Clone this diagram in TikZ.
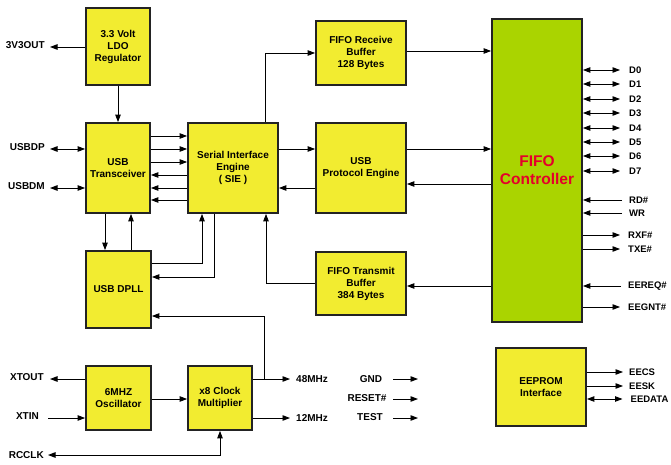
\documentclass[tikz,border=0pt]{standalone}
\usepackage{fontspec}
\setmainfont{Liberation Sans}
\usetikzlibrary{arrows.meta}
\definecolor{boxyellow}{RGB}{242,236,48}
\definecolor{ctrlgreen}{RGB}{170,212,0}
\definecolor{ctrlred}{RGB}{228,0,43}
\definecolor{edgegrey}{RGB}{35,35,35}
\tikzset{
  blk/.style={draw=edgegrey, line width=1.8pt, fill=boxyellow, align=center,
    font=\fontsize{10}{12}\selectfont\bfseries, inner sep=0pt},
  lbl/.style={font=\fontsize{10}{11}\selectfont\bfseries, inner sep=2pt},
  slbl/.style={font=\fontsize{9.5}{11}\selectfont\bfseries, inner sep=2pt},
  tip/.tip={Triangle[length=7.5pt,width=5.5pt]},
  arr/.style={line width=0.9pt, -tip},
  darr/.style={line width=0.9pt, tip-tip}
}
\begin{document}
\begin{tikzpicture}[x=1pt,y=-1pt]
\useasboundingbox (0,0) rectangle (671,465);
% blocks
\node[blk, minimum width=64pt, minimum height=77pt] (ldo) at (118,46.5) {3.3 Volt\\LDO\\Regulator};
\node[blk, minimum width=64pt, minimum height=90pt] (xcvr) at (118,168) {USB\\Transceiver};
\node[blk, minimum width=90pt, minimum height=90pt] (sie) at (233,168) {Serial Interface\\Engine\\( SIE )};
\node[blk, minimum width=90pt, minimum height=90pt] (pe) at (361,168) {USB\\Protocol Engine};
\node[blk, minimum width=90pt, minimum height=64pt] (rx) at (361,53) {FIFO Receive\\Buffer\\128 Bytes};
\node[blk, minimum width=90pt, minimum height=63pt] (tx) at (361,283.5) {FIFO Transmit\\Buffer\\384 Bytes};
\node[blk, fill=ctrlgreen, text=ctrlred, font=\fontsize{15.5}{18}\selectfont\bfseries, minimum width=90pt, minimum height=303pt] (ctrl) at (537,170.5) {FIFO\\Controller};
\node[blk, minimum width=65pt, minimum height=77pt] (dpll) at (118.5,289.5) {USB DPLL};
\node[blk, minimum width=65pt, minimum height=64pt] (osc) at (118.5,398) {6MHZ\\Oscillator};
\node[blk, minimum width=64pt, minimum height=64pt] (clk) at (220,398) {x8 Clock\\Multiplier};
\node[blk, minimum width=90pt, minimum height=78pt] (eep) at (541,387) {EEPROM\\Interface};

% left side labels
\node[lbl, anchor=east] (v3) at (47,45) {3V3OUT};
\node[lbl, anchor=east] (dp) at (47,147) {USBDP};
\node[lbl, anchor=east] (dm) at (47,186) {USBDM};
\node[lbl, anchor=east] (xo) at (46,377) {XTOUT};
\node[lbl, anchor=east] (xi) at (41,416) {XTIN};
\node[lbl, anchor=east] (rc) at (46,455) {RCCLK};

\draw[arr] (ldo.west |- 0,47) -- (50,47) coordinate (v3e);
\draw[darr] (50,149) coordinate (dpe) -- (xcvr.west |- 0,149);
\draw[darr] (50,188) coordinate (dme) -- (xcvr.west |- 0,188);
\draw[arr] (osc.west |- 0,379) -- (50,379) coordinate (xoe);
\draw[arr] (48,418) coordinate (xie) -- (osc.west |- 0,418);
\draw[darr] (clk.south) -- (clk.south |- 0,455) -- (48,455) coordinate (rce);

% LDO to transceiver
\draw[arr] (ldo.south) -- (xcvr.north);

% transceiver <-> SIE
\foreach \yy in {136,149,162}
  \draw[arr] (xcvr.east |- 0,\yy) -- (sie.west |- 0,\yy);
\foreach \yy in {175,188,200}
  \draw[arr] (sie.west |- 0,\yy) -- (xcvr.east |- 0,\yy);

% transceiver <-> DPLL
\draw[arr] (xcvr.south -| 105,0) -- (dpll.north -| 105,0);
\draw[arr] (dpll.north -| 131,0) -- (xcvr.south -| 131,0);

% DPLL <-> SIE
\draw[arr] (dpll.east |- 0,263) -- (202,263) -- (sie.south -| 202,0);
\draw[arr] (sie.south -| 214,0) -- (214,277) -- (dpll.east |- 0,277);

% SIE -> FIFO receive
\draw[arr] (sie.north -| 265,0) -- (265,53) -- (rx.west |- 0,53);
% SIE <-> protocol engine
\draw[arr] (sie.east |- 0,149) -- (pe.west |- 0,149);
\draw[arr] (pe.west |- 0,188) -- (sie.east |- 0,188);
% transmit -> SIE
\draw[arr] (tx.west |- 0,283) -- (266,283) -- (sie.south -| 266,0);

% to / from controller
\draw[arr] (rx.east |- 0,51) -- (ctrl.west |- 0,51);
\draw[arr] (pe.east |- 0,149) -- (ctrl.west |- 0,149);
\draw[arr] (ctrl.west |- 0,184) -- (pe.east |- 0,184);
\draw[arr] (ctrl.west |- 0,286) -- (tx.east |- 0,286);

% clock
\draw[arr] (osc.east |- 0,399) -- (clk.west |- 0,399);
\node[lbl, anchor=west] (m48) at (294,379) {48MHz};
\node[lbl, anchor=west] (m12) at (294,418) {12MHz};
\draw[arr] (clk.east |- 0,379) -- (290,379) coordinate (m48e);
\draw[arr] (clk.east |- 0,418) -- (290,418) coordinate (m12e);
\draw[arr] (264,379) -- (264,316) -- (dpll.east |- 0,316);

% GND etc
\node[lbl] (gnd) at (371,379) {GND};
\node[lbl] (rst) at (367,398) {RESET\#};
\node[lbl] (tst) at (370,417) {TEST};
\draw[arr] (393,379) coordinate (g0) -- (418,379) coordinate (g1);
\draw[arr] (393,399) coordinate (r0) -- (418,399) coordinate (r1);
\draw[arr] (393,418) coordinate (t0) -- (418,418) coordinate (t1);

% data bus
\foreach \nm/\yy in {D0/70,D1/84,D2/99,D3/113,D4/128,D5/142,D6/156,D7/171}{
  \node[slbl, anchor=west] (\nm) at (627,\yy) {\nm};
  \draw[darr] (ctrl.east |- 0,\yy) -- ([xshift=-7pt]\nm.west);
}
\node[slbl, anchor=west] (rd) at (627,200) {RD\#};
\node[slbl, anchor=west] (wr) at (627,213) {WR};
\node[slbl, anchor=west] (rxf) at (626,235) {RXF\#};
\node[slbl, anchor=west] (txe) at (626,249) {TXE\#};
\node[slbl, anchor=west] (ereq) at (626,286) {EEREQ\#};
\node[slbl, anchor=west] (egnt) at (626,307) {EEGNT\#};
\draw[arr] ([xshift=-5pt]rd.west) -- (ctrl.east |- rd.west);
\draw[arr] ([xshift=-5pt]wr.west) -- (ctrl.east |- wr.west);
\draw[arr] (ctrl.east |- rxf.west) -- ([xshift=-6pt]rxf.west);
\draw[arr] (ctrl.east |- txe.west) -- ([xshift=-6pt]txe.west);
\draw[arr] ([xshift=-5pt]ereq.west) -- (ctrl.east |- ereq.west);
\draw[arr] (ctrl.east |- egnt.west) -- ([xshift=-6pt]egnt.west);

% EEPROM
\node[slbl, anchor=west] (ecs) at (627,372) {EECS};
\node[slbl, anchor=west] (esk) at (627,386) {EESK};
\node[slbl, anchor=west] (edt) at (628.5,399) {EEDATA};
\draw[arr] (eep.east |- ecs.west) -- ([xshift=-4pt]ecs.west);
\draw[arr] (eep.east |- esk.west) -- ([xshift=-4pt]esk.west);
\draw[darr] (eep.east |- edt.west) -- ([xshift=-6pt]edt.west);
\end{tikzpicture}
\end{document}
